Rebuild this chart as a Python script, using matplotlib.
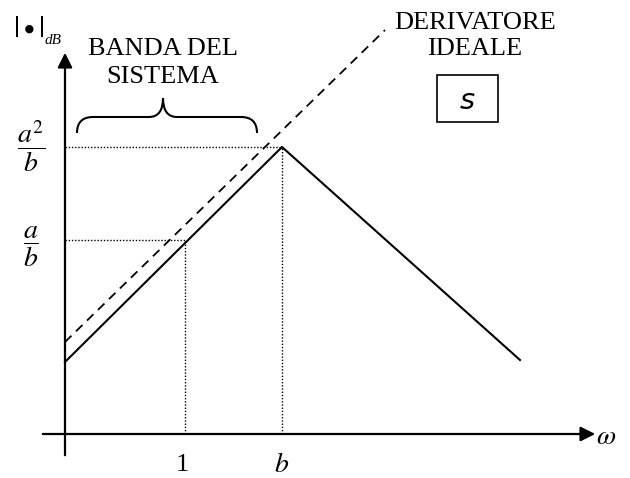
import matplotlib
matplotlib.use("Agg")
import matplotlib.pyplot as plt
from matplotlib.path import Path
from matplotlib.patches import PathPatch, Rectangle

plt.rcParams['font.family'] = ['Liberation Serif', 'DejaVu Serif']
plt.rcParams['mathtext.fontset'] = 'stix'

# diagramma asintotico (coordinate con origine nell'incrocio degli assi)
modulo_x = [0, 217, 455]
modulo_y = [72, 287, 74]
derivatore_x = [0, 320]
derivatore_y = [92, 404]
punto_1 = (120, 194)   # omega = 1, livello a/b
punto_b = (217, 287)   # omega = b, livello a^2/b
etichette_x = ['1', r'$b$']
etichette_y = [r'$\dfrac{a}{b}$', r'$\dfrac{a^2}{b}$']

fig = plt.figure(figsize=(6.3, 4.78), dpi=100)
ax = fig.add_axes([0, 0, 1, 1])
ax.set_xlim(-65, 565)
ax.set_ylim(-44, 434)
ax.axis('off')

# assi con frecce
ax.annotate('', xy=(533, 0), xytext=(-25, 0),
            arrowprops=dict(arrowstyle='-|>', lw=1.6, color='black', mutation_scale=22))
ax.annotate('', xy=(0, 384), xytext=(0, -24),
            arrowprops=dict(arrowstyle='-|>', lw=1.6, color='black', mutation_scale=22))

# linee tratteggiate di riferimento
for (px, py) in [punto_1, punto_b]:
    ax.plot([px, px], [0, py], color='black', lw=1.0, ls=(0, (1, 1.3)))
    ax.plot([0, px], [py, py], color='black', lw=1.0, ls=(0, (1, 1.3)))

ax.plot(modulo_x, modulo_y, color='black', lw=1.5)
ax.plot(derivatore_x, derivatore_y, color='black', lw=1.3, ls=(0, (5, 3.5)))

# parentesi graffa
verts = [(12, 301), (12, 317), (28, 317), (84, 317), (98, 317), (98, 336),
         (98, 317), (112, 317), (176, 317), (192, 317), (192, 301)]
codes = [Path.MOVETO, Path.CURVE3, Path.CURVE3, Path.LINETO, Path.CURVE3, Path.CURVE3,
         Path.CURVE3, Path.CURVE3, Path.LINETO, Path.CURVE3, Path.CURVE3]
ax.add_patch(PathPatch(Path(verts, codes), fill=False, lw=1.5, color='black'))

# testi
ax.text(98, 371, 'BANDA DEL\nSISTEMA', ha='center', va='center', fontsize=19,
        linespacing=1.3)
ax.text(410, 398, 'DERIVATORE\nIDEALE', ha='center', va='center', fontsize=19,
        linespacing=1.25)
ax.add_patch(Rectangle((372, 312), 61, 47, fill=False, lw=1.2, color='black'))
ax.text(402, 333, 's', ha='center', va='center', fontsize=21,
        family='DejaVu Sans', style='italic')

ax.text(-36, 405, r'$|\bullet|$', ha='center', va='center', fontsize=22)
ax.text(-20, 394, 'dB', ha='left', va='center', fontsize=11, style='italic')
ax.text(-34, punto_b[1] + 1, etichette_y[1], ha='center', va='center', fontsize=20)
ax.text(-34, punto_1[1] - 7, etichette_y[0], ha='center', va='center', fontsize=20)
ax.text(punto_1[0] - 3, -31, etichette_x[0], ha='center', va='center', fontsize=19)
ax.text(punto_b[0], -32, etichette_x[1], ha='center', va='center', fontsize=20)
ax.text(541, -4, r'$\omega$', ha='center', va='center', fontsize=20)

fig.savefig('out.png', dpi=100)
